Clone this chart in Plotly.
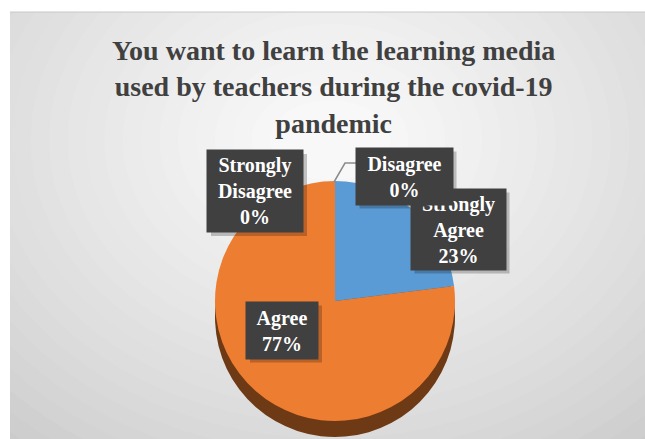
import plotly.graph_objects as go

# ---- data ----
categories = ["Strongly Agree", "Agree", "Disagree", "Strongly Disagree"]
values = [23, 77, 0, 0]
percent_labels = ["23%", "77%", "0%", "0%"]
title_text = "You want to learn the learning media<br>used by teachers during the covid-19<br>pandemic"

W, H = 645, 439
top_colors = ["#5b9bd5", "#ed7d31", "#a5a5a5", "#ffc000"]
rim_colors = ["#2f5a85", "#6e3a15", "#555555", "#7a5c00"]
SERIF = "Liberation Serif, Times New Roman, serif"

def px(x):
    return x / W

def py(y):
    return 1 - y / H

cx, cy, r, depth = 335, 301, 120, 16

fig = go.Figure()
# side (depth) of the pie
fig.add_trace(go.Pie(
    labels=categories, values=values, sort=False, direction="clockwise", rotation=0,
    marker=dict(colors=rim_colors, line=dict(width=0)), textinfo="none", hoverinfo="skip",
    showlegend=False,
    domain=dict(x=[px(cx - r), px(cx + r)], y=[py(cy + depth + r), py(cy + depth - r)]),
))
# top face of the pie
fig.add_trace(go.Pie(
    labels=categories, values=values, sort=False, direction="clockwise", rotation=0,
    marker=dict(colors=top_colors, line=dict(width=0)), textinfo="none",
    showlegend=False,
    domain=dict(x=[px(cx - r), px(cx + r)], y=[py(cy + r), py(cy - r)]),
))

# ---- background: radial-ish gradient ----
shapes = [dict(type="rect", xref="paper", yref="paper", x0=0, x1=1, y0=0, y1=1,
               fillcolor="#c8c8c8", line=dict(width=0), layer="below")]
steps = 26
gcx, gcy = 330, 140
for i in range(steps):
    t = i / (steps - 1)
    rx = 520 * (1 - t) + 60 * t
    ry = 420 * (1 - t) + 40 * t
    g = int(200 + (248 - 200) * (t ** 0.8))
    col = "#%02x%02x%02x" % (g, g, g)
    shapes.append(dict(type="circle", xref="paper", yref="paper",
                       x0=px(gcx - rx), x1=px(gcx + rx), y0=py(gcy + ry), y1=py(gcy - ry),
                       fillcolor=col, line=dict(width=0), layer="below"))
# white outer border (left and top)
shapes.append(dict(type="rect", xref="paper", yref="paper", x0=0, x1=px(10), y0=0, y1=1,
                   fillcolor="white", line=dict(width=0), layer="below"))
shapes.append(dict(type="rect", xref="paper", yref="paper", x0=0, x1=1, y0=py(12), y1=1,
                   fillcolor="white", line=dict(width=0), layer="below"))
shapes.append(dict(type="line", xref="paper", yref="paper", x0=px(10), x1=1, y0=py(12), y1=py(12),
                   line=dict(color="#c8c8c8", width=1), layer="below"))
# leader line for "Disagree"
shapes.append(dict(type="path", xref="paper", yref="paper",
                   path="M %f %f L %f %f L %f %f" % (px(334), py(182), px(345), py(163), px(357), py(163)),
                   line=dict(color="#8c8c8c", width=1.5)))

# ---- labels ----
label_pos = {
    "Strongly Agree": (458, 229),
    "Agree": (282, 330),
    "Disagree": (404, 176),
    "Strongly Disagree": (255, 191),
}
box_size = {
    "Strongly Agree": (95, 81),
    "Agree": (72, 57),
    "Disagree": (97, 57),
    "Strongly Disagree": (96, 82),
}
PAD = 2
for cat in categories:
    x, y = label_pos[cat]
    bw, bh = box_size[cat]
    shapes.append(dict(type="rect", xref="paper", yref="paper",
                       x0=px(x - bw / 2 + 4), x1=px(x + bw / 2 + 4),
                       y0=py(y + bh / 2 + 4), y1=py(y - bh / 2 + 4),
                       fillcolor="rgba(0,0,0,0.22)", line=dict(width=0), layer="above"))

annotations = []
lab_font = dict(family=SERIF, size=20, color="white")
for cat, pct in zip(categories, percent_labels):
    x, y = label_pos[cat]
    bw, bh = box_size[cat]
    txt = "<b>" + cat.replace(" ", "<br>") + "<br>" + pct + "</b>"
    annotations.append(dict(text=txt, x=px(x), y=py(y), xref="paper", yref="paper",
                            xanchor="center", yanchor="middle", align="center", valign="middle",
                            width=bw - 2 * PAD, height=bh - 2 * PAD,
                            showarrow=False, font=lab_font, bgcolor="#404040", borderpad=PAD))

annotations.append(dict(text="<b>" + title_text + "</b>", x=px(333), y=py(33), xref="paper", yref="paper",
                        xanchor="center", yanchor="top", showarrow=False,
                        font=dict(family=SERIF, size=28, color="#404040")))

fig.update_layout(
    width=W, height=H, margin=dict(l=0, r=0, t=0, b=0),
    paper_bgcolor="white", plot_bgcolor="white",
    shapes=shapes, annotations=annotations, showlegend=False,
)

fig.write_html("out.html")
